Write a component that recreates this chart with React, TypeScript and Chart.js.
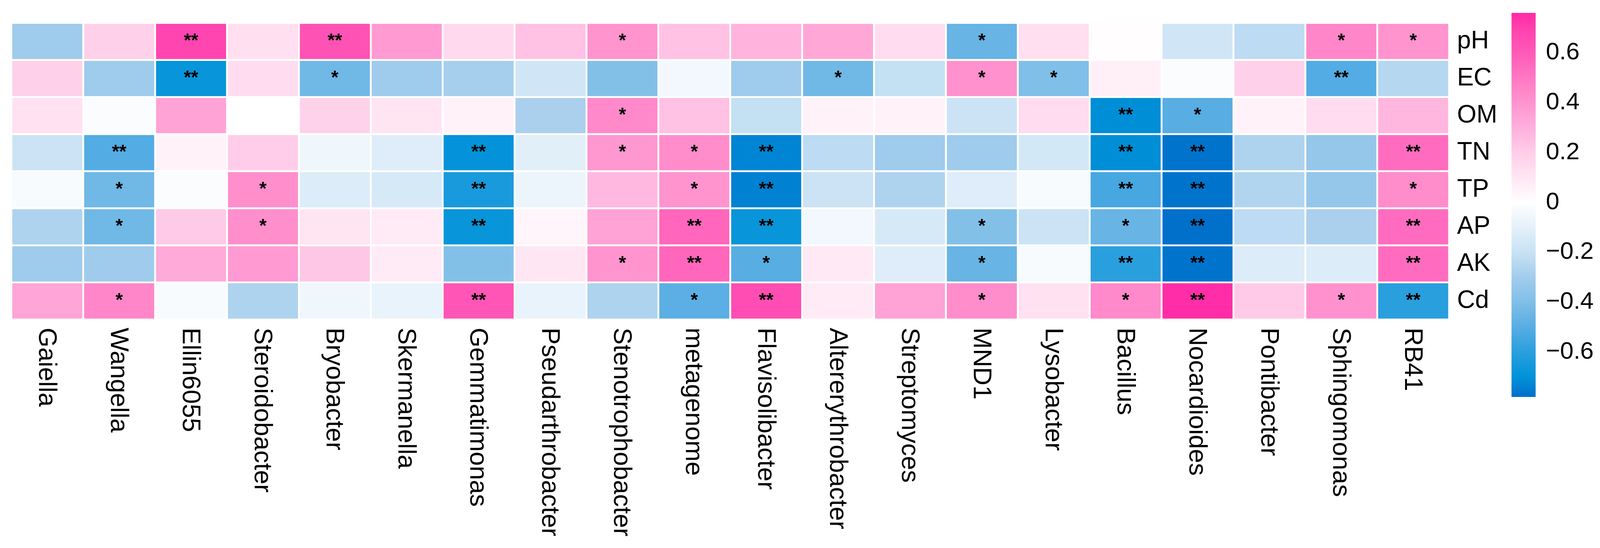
import React, { useEffect, useRef } from "react";
import { Chart, registerables } from "chart.js";

Chart.register(...registerables);

// ---------- DATA ----------
const genera = [
  "Gaiella", "Wangella", "Ellin6055", "Steroidobacter", "Bryobacter", "Skermanella",
  "Gemmatimonas", "Pseudarthrobacter", "Stenotrophobacter", "metagenome", "Flavisolibacter",
  "Altererythrobacter", "Streptomyces", "MND1", "Lysobacter", "Bacillus", "Nocardioides",
  "Pontibacter", "Sphingomonas", "RB41",
];

const variables = ["pH", "EC", "OM", "TN", "TP", "AP", "AK", "Cd"];

const pH = [-0.31, 0.19, 0.68, 0.13, 0.63, 0.38, 0.15, 0.24, 0.40, 0.24, 0.29, 0.33, 0.14, -0.46, 0.13, 0.01, -0.17, -0.23, 0.45, 0.40];
const EC = [0.19, -0.31, -0.68, 0.14, -0.44, -0.31, -0.29, -0.17, -0.39, -0.05, -0.31, -0.44, -0.21, 0.41, -0.40, 0.06, -0.02, 0.19, -0.51, -0.25];
const OM = [0.12, -0.02, 0.35, 0.0, 0.18, 0.11, 0.05, -0.28, 0.44, 0.24, -0.21, 0.05, 0.05, -0.19, 0.14, -0.71, -0.50, 0.05, 0.14, 0.28];
const TN = [-0.19, -0.51, 0.05, 0.20, -0.06, -0.12, -0.69, -0.11, 0.39, 0.43, -0.73, -0.23, -0.31, -0.31, -0.16, -0.71, -0.77, -0.27, -0.34, 0.54];
const TP = [-0.03, -0.44, -0.02, 0.42, -0.13, -0.15, -0.64, -0.07, 0.27, 0.40, -0.74, -0.19, -0.27, -0.12, -0.03, -0.54, -0.77, -0.26, -0.34, 0.43];
const AP = [-0.27, -0.44, 0.21, 0.42, 0.11, 0.08, -0.68, 0.04, 0.35, 0.56, -0.68, -0.05, -0.15, -0.39, -0.19, -0.46, -0.78, -0.23, -0.28, 0.54];
const AK = [-0.31, -0.31, 0.32, 0.38, 0.22, 0.08, -0.39, 0.10, 0.40, 0.56, -0.50, 0.09, -0.12, -0.46, -0.03, -0.60, -0.77, -0.13, -0.13, 0.54];
const Cd = [0.34, 0.45, -0.03, -0.27, -0.06, -0.08, 0.62, -0.08, -0.27, -0.49, 0.65, 0.08, 0.35, 0.43, 0.12, 0.44, 0.76, 0.21, 0.41, -0.60];

const E = "";
const sigPH = [E, E, "**", E, "**", E, E, E, "*", E, E, E, E, "*", E, E, E, E, "*", "*"];
const sigEC = [E, E, "**", E, "*", E, E, E, E, E, E, "*", E, "*", "*", E, E, E, "**", E];
const sigOM = [E, E, E, E, E, E, E, E, "*", E, E, E, E, E, E, "**", "*", E, E, E];
const sigTN = [E, "**", E, E, E, E, "**", E, "*", "*", "**", E, E, E, E, "**", "**", E, E, "**"];
const sigTP = [E, "*", E, "*", E, E, "**", E, E, "*", "**", E, E, E, E, "**", "**", E, E, "*"];
const sigAP = [E, "*", E, "*", E, E, "**", E, E, "**", "**", E, E, "*", E, "*", "**", E, E, "**"];
const sigAK = [E, E, E, E, E, E, E, E, "*", "**", "*", E, E, "*", E, "**", "**", E, E, "**"];
const sigCd = [E, "*", E, E, E, E, "**", E, E, "*", "**", E, E, "*", E, "*", "**", E, "*", "**"];

const valueRows = [pH, EC, OM, TN, TP, AP, AK, Cd];
const sigRows = [sigPH, sigEC, sigOM, sigTN, sigTP, sigAP, sigAK, sigCd];

const colorbarTicks = [0.6, 0.4, 0.2, 0, -0.2, -0.4, -0.6];
const colorbarMin = -0.78;
const colorbarMax = 0.76;

// ---------- COLOUR SCALE ----------
const palette: [number, string][] = [
  [-0.78, "#0070CB"],
  [-0.7, "#0092D9"],
  [-0.6, "#2A9FDE"],
  [-0.5, "#58ADE3"],
  [-0.4, "#80BFE8"],
  [-0.3, "#A2CCEC"],
  [-0.2, "#C8E2F4"],
  [-0.1, "#E4F0FA"],
  [0, "#FFFFFF"],
  [0.1, "#FFE6F3"],
  [0.2, "#FFCDE9"],
  [0.3, "#FFB0DC"],
  [0.4, "#FF94CF"],
  [0.5, "#FF78C3"],
  [0.6, "#FF5AB8"],
  [0.7, "#FF40AE"],
  [0.77, "#FF2AA6"],
];

function hexToRgb(h: string): number[] {
  const n = parseInt(h.slice(1), 16);
  return [(n >> 16) & 255, (n >> 8) & 255, n & 255];
}

function colorFor(v: number): string {
  if (v <= palette[0][0]) return palette[0][1];
  if (v >= palette[palette.length - 1][0]) return palette[palette.length - 1][1];
  for (let i = 0; i < palette.length - 1; i++) {
    const [a, ca] = palette[i];
    const [b, cb] = palette[i + 1];
    if (v >= a && v <= b) {
      const t = (v - a) / (b - a);
      const A = hexToRgb(ca);
      const B = hexToRgb(cb);
      const c = A.map((x, k) => Math.round(x + (B[k] - x) * t));
      return `rgb(${c[0]},${c[1]},${c[2]})`;
    }
  }
  return "#FFFFFF";
}

const REF_W = 4375;
const REF_H = 1404;
const FONT = "'Liberation Sans', Arial, Helvetica, sans-serif";

function fmtTick(v: number): string {
  if (v === 0) return "0";
  return v < 0 ? "\u2212" + Math.abs(v).toFixed(1) : v.toFixed(1);
}

function makeDecor(sx: number) {
  return {
    id: "decor",
    afterDatasetsDraw(chart: any) {
      const ctx = chart.ctx;
      ctx.save();
      ctx.fillStyle = "#000";
      ctx.font = `bold 48px ${FONT}`;
      ctx.textAlign = "center";
      ctx.textBaseline = "middle";
      sigRows.forEach((row, r) => {
        const meta = chart.getDatasetMeta(r);
        row.forEach((s, c) => {
          if (!s) return;
          const el = meta.data[c];
          ctx.fillText(s, el.x, (el.y + el.base) / 2);
        });
      });
      ctx.restore();
    },
    afterDraw(chart: any) {
      const ctx = chart.ctx;
      const area = chart.chartArea;
      const xScale = chart.scales.x;

      // colour bar legend
      const cbLeft = 4133 * sx;
      const cbWidth = 66 * sx;
      const cbTop = 33;
      const cbBottom = 1017;
      const toY = (v: number) =>
        cbTop + ((colorbarMax - v) / (colorbarMax - colorbarMin)) * (cbBottom - cbTop);
      ctx.save();
      const grad = ctx.createLinearGradient(0, cbTop, 0, cbBottom);
      palette.forEach(([v, c]) => {
        const t = Math.min(1, Math.max(0, (colorbarMax - v) / (colorbarMax - colorbarMin)));
        grad.addColorStop(t, c);
      });
      ctx.fillStyle = grad;
      ctx.fillRect(cbLeft, cbTop, cbWidth, cbBottom - cbTop);
      ctx.fillStyle = "#000";
      ctx.font = `62px ${FONT}`;
      ctx.textAlign = "left";
      ctx.textBaseline = "middle";
      colorbarTicks.forEach((v) => {
        ctx.fillText(fmtTick(v), 4227 * sx, toY(v));
      });
      ctx.restore();

      // column labels, rotated clockwise (read top to bottom)
      ctx.save();
      ctx.fillStyle = "#000";
      ctx.font = `65px ${FONT}`;
      ctx.textAlign = "left";
      ctx.textBaseline = "middle";
      genera.forEach((g, i) => {
        const x = xScale.getPixelForValue(i);
        ctx.save();
        ctx.translate(x - 3, area.bottom + 21);
        ctx.rotate(Math.PI / 2);
        ctx.fillText(g, 0, 0);
        ctx.restore();
      });
      ctx.restore();
    },
  };
}

export default function App() {
  const ref = useRef<HTMLCanvasElement | null>(null);

  useEffect(() => {
    const canvas = ref.current;
    if (!canvas) return;
    const vw = document.documentElement.clientWidth || window.innerWidth || REF_W;
    const W = Math.min(vw, REF_W);
    const Hh = REF_H;
    const sx = W / REF_W;
    canvas.width = W;
    canvas.height = Hh;
    canvas.style.width = `${W}px`;
    canvas.style.height = `${Hh}px`;

    const datasets = variables.map((name, r) => ({
      label: name,
      data: genera.map(() => [r, r + 1]),
      backgroundColor: valueRows[r].map((v) => colorFor(v)),
      borderColor: "#FFFFFF",
      borderWidth: 2.7,
      borderSkipped: false,
      grouped: false,
      barPercentage: 1,
      categoryPercentage: 1,
    }));

    const chartRight = 3962.5 * sx;
    const axisW = 130;
    const padRight = W - chartRight - axisW;

    const chart = new Chart(canvas, {
      type: "bar",
      data: { labels: genera, datasets: datasets as any },
      options: {
        animation: false,
        responsive: false,
        maintainAspectRatio: false,
        devicePixelRatio: 1,
        layout: { padding: { left: 31 * sx, top: 33, right: padRight, bottom: Hh - 818.5 } },
        plugins: {
          legend: { display: false },
          tooltip: { enabled: false },
        },
        scales: {
          x: {
            type: "category",
            display: false,
            offset: true,
            grid: { display: false },
          },
          y: {
            type: "linear",
            position: "right",
            min: 0,
            max: 8,
            reverse: true,
            grid: { display: false, drawTicks: false, tickLength: 0 },
            border: { display: false },
            afterBuildTicks: (axis: any) => {
              axis.ticks = variables.map((_, i) => ({ value: i + 0.5 }));
            },
            afterFit: (axis: any) => {
              axis.width = axisW;
            },
            ticks: {
              autoSkip: false,
              padding: 21.5 * sx,
              color: "#000",
              font: { size: 64, family: FONT },
              callback: (_v: any, i: number) => variables[i],
            },
          },
        },
      } as any,
      plugins: [makeDecor(sx)],
    });
    return () => chart.destroy();
  }, []);

  return (
    <div style={{ position: "fixed", left: 0, top: 0, background: "#fff" }}>
      <canvas ref={ref} style={{ display: "block" }} />
    </div>
  );
}
